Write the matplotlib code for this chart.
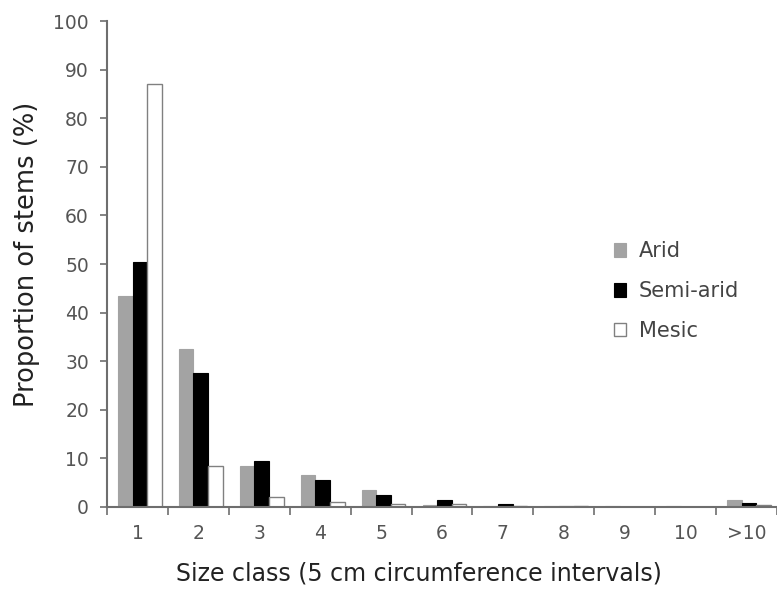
import numpy as np
import matplotlib
matplotlib.use("Agg")
import matplotlib.pyplot as plt

plt.rcParams["font.family"] = ["DejaVu Sans"]

# Data
sizeClasses = ["1", "2", "3", "4", "5", "6", "7", "8", "9", "10", ">10"]
arid = [43.5, 32.5, 8.5, 6.5, 3.5, 0.5, 0.3, 0.2, 0.2, 0.2, 1.5]
semiArid = [50.5, 27.5, 9.5, 5.5, 2.5, 1.5, 0.6, 0.2, 0.1, 0.1, 0.8]
mesic = [87.0, 8.5, 2.0, 1.0, 0.7, 0.7, 0.2, 0.2, 0.1, 0.1, 0.5]

axisGrey = "#6e6e6e"
tickText = "#555555"

fig = plt.figure(figsize=(7.77, 5.92), dpi=100)
ax = fig.add_axes([0.1377, 0.1436, 0.8623, 0.8209])

x = np.arange(len(sizeClasses))
w = 0.24
off = 0.04
ax.bar(x - w + off, arid, w, color="#a3a3a3", edgecolor="#a3a3a3", linewidth=0.8, label="Arid")
ax.bar(x + off, semiArid, w, color="black", edgecolor="black", linewidth=0.8, label="Semi-arid")
ax.bar(x + w + off, mesic, w, color="white", edgecolor="#808080", linewidth=1.0, label="Mesic")

ax.set_xlim(-0.5, 10.48)
ax.set_ylim(0, 100)
ax.set_yticks(range(0, 101, 10))

# Category labels at centres, tick marks at boundaries
ax.set_xticks(x)
ax.set_xticklabels(sizeClasses)
ax.set_xticks(np.arange(-0.5, 11, 1), minor=True)
ax.tick_params(axis="x", which="major", length=0, pad=12, labelsize=13.5, labelcolor=tickText)
ax.tick_params(axis="x", which="minor", length=6, direction="out", color=axisGrey, width=1.2)
ax.tick_params(axis="y", length=5, direction="out", color=axisGrey, width=1.2, pad=8,
               labelsize=13.5, labelcolor=tickText)

for side in ["top", "right"]:
    ax.spines[side].set_visible(False)
for side in ["left", "bottom"]:
    ax.spines[side].set_color(axisGrey)
    ax.spines[side].set_linewidth(1.5)

ax.set_xlabel("Size class (5 cm circumference intervals)", fontsize=17, color="#222222")
ax.xaxis.set_label_coords(0.465, -0.112)
ax.set_ylabel("Proportion of stems (%)", fontsize=18.5, color="#222222")
ax.yaxis.set_label_coords(-0.1, 0.52)

ax.legend(loc="upper left", bbox_to_anchor=(0.728, 0.585), frameon=False, fontsize=15,
          labelspacing=0.95, handlelength=0.6, handleheight=0.6, handletextpad=0.6,
          labelcolor="#444444")

fig.savefig("out.png", dpi=100)
